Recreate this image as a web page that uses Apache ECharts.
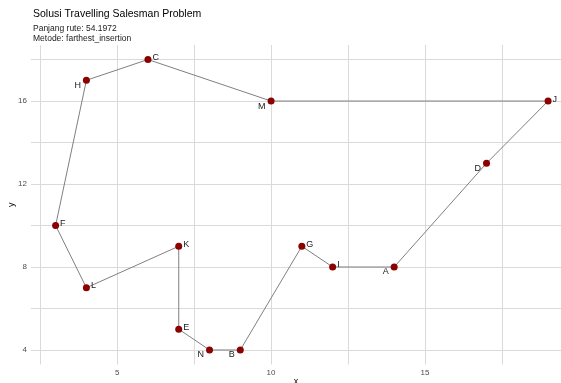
<!DOCTYPE html>
<html>
<head>
<meta charset="utf-8">
<script src="https://cdn.jsdelivr.net/npm/echarts@6/dist/echarts.min.js"></script>
<style>
html,body{margin:0;padding:0;background:#fff;}
#c{width:561px;height:383px;}
</style>
</head>
<body>
<div id="c"></div>
<script>
// ---- data ----
const cities = ['A','B','C','D','E','F','G','H','I','J','K','L','M','N'];
const cityX  = [14, 9, 6, 17, 7, 3, 11, 4, 12, 19, 7, 4, 10, 8];
const cityY  = [ 8, 4, 18, 13, 5, 10, 9, 17, 8, 16, 9, 7, 16, 4];
const tour   = ['F','H','C','M','J','D','A','I','G','B','N','E','K','L','F'];
const xTickLabels = [5, 10, 15];
const xGridValues = [2.5, 5, 7.5, 10, 12.5, 15, 17.5];
const yTickLabels = [4, 8, 12, 16];
const yGridValues = [4, 6, 8, 10, 12, 14, 16, 18];
const titleText = 'Solusi Travelling Salesman Problem';
const subtitleLines = ['Panjang rute: 54.1972', 'Metode: farthest_insertion'];

// label placement (style, kept separate from data)
const leftBelow = new Set(['H','M','D','A','B','N']);

const idx = {};
cities.forEach((c, i) => idx[c] = i);
const routeData = tour.map(c => [cityX[idx[c]], cityY[idx[c]]]);
const pointData = cities.map((c, i) => ({
  value: [cityX[i], cityY[i]],
  name: c,
  label: leftBelow.has(c)
    ? { position: 'left', offset: [0, 5] }
    : { position: 'right', offset: [-1, -2] }
}));

const font = 'Liberation Sans, Arial, sans-serif';
const chart = echarts.init(document.getElementById('c'), null, {renderer: 'canvas'});
chart.setOption({
  animation: false,
  backgroundColor: '#ffffff',
  title: {
    text: titleText,
    subtext: subtitleLines.join('\n'),
    left: 28, top: 4,
    itemGap: 4,
    textStyle: {fontFamily: font, fontSize: 10.5, fontWeight: 'normal', color: '#000'},
    subtextStyle: {fontFamily: font, fontSize: 8.5, color: '#1a1a1a', lineHeight: 10}
  },
  grid: {left: 31, right: 0, top: 45, bottom: 18.5, containLabel: false, outerBoundsMode: 'none'},
  xAxis: {
    type: 'value', min: 2.2, max: 19.42,
    name: 'x', nameLocation: 'middle', nameGap: 13, nameMoveOverlap: false,
    nameTextStyle: {fontFamily: font, fontSize: 9, color: '#000'},
    axisLine: {show: false},
    axisTick: {show: false, customValues: xGridValues},
    axisLabel: {customValues: xTickLabels, fontFamily: font, fontSize: 8, color: '#4d4d4d', margin: 4},
    splitLine: {show: true, lineStyle: {color: '#dadada', width: 1}}
  },
  yAxis: {
    type: 'value', min: 3.3, max: 18.7,
    name: 'y', nameLocation: 'middle', nameGap: 15, nameRotate: 90, nameMoveOverlap: false,
    nameTextStyle: {fontFamily: font, fontSize: 9, color: '#000'},
    axisLine: {show: false},
    axisTick: {show: false, customValues: yGridValues},
    axisLabel: {customValues: yTickLabels, fontFamily: font, fontSize: 8, color: '#4d4d4d', margin: 4},
    splitLine: {show: true, lineStyle: {color: '#dadada', width: 1}}
  },
  series: [
    {
      type: 'line', data: routeData, symbol: 'none',
      lineStyle: {color: '#808080', width: 1},
      z: 2
    },
    {
      type: 'scatter', data: pointData, symbolSize: 7,
      itemStyle: {color: '#8b0000', opacity: 1},
      label: {show: true, formatter: p => p.name, fontFamily: font, fontSize: 9, color: '#1a1a1a', distance: 2},
      z: 3
    }
  ]
});
</script>
</body>
</html>
